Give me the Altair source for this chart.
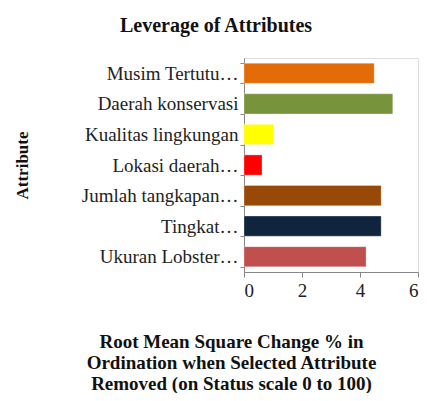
import altair as alt
import pandas as pd

attributes = ["Musim Tertutu…", "Daerah konservasi", "Kualitas lingkungan", "Lokasi daerah…",
              "Jumlah tangkapan…", "Tingkat…", "Ukuran Lobster…"]
values = [4.49, 5.13, 1.03, 0.62, 4.73, 4.73, 4.21]
colors = ["#E36C09", "#77933C", "#FFFF00", "#FF0000", "#984807", "#10243E", "#C0504D"]
x_ticks = [0, 2, 4, 6]

df = pd.DataFrame({"attr": attributes, "val": values, "col": colors})

serif = "Liberation Serif"

chart = alt.Chart(df).mark_bar(stroke="#ffffff", strokeWidth=0.6, strokeOpacity=0.5).encode(
    y=alt.Y("attr:N", sort=attributes,
            scale=alt.Scale(paddingInner=0.34, paddingOuter=0.17),
            axis=alt.Axis(title="Attribute", titleFont=serif, titleFontSize=17, titleFontWeight="bold",
                          titleX=-222, titleY=107, titleAngle=-90, titleAlign="center", titleBaseline="middle",
                          titleColor="#111",
                          labelFont=serif, labelFontSize=19, labelColor="#222", labelPadding=2,
                          labelLimit=240,
                          tickBand="extent", tickSize=4, tickColor="#868686",
                          domainColor="#868686", grid=False)),
    x=alt.X("val:Q", scale=alt.Scale(domain=[0, 6], nice=False),
            axis=alt.Axis(values=x_ticks, format="d",
                          title=["Root   Mean   Square   Change   % in", "Ordination   when   Selected  Attribute",
                                 "Removed    (on  Status  scale 0  to  100)"],
                          titleFont=serif, titleFontSize=19, titleFontWeight="bold",
                          titleX=-13, titleY=60, titleAlign="center", titleBaseline="top",
                          titleLineHeight=21, titleColor="#111",
                          labelFont=serif, labelFontSize=19, labelColor="#222", labelPadding=4,
                          tickSize=5, tickColor="#868686", domainColor="#868686", grid=False)),
    color=alt.Color("col:N", scale=None),
).properties(
    width=174, height=214,
    title=alt.Title("Leverage   of  Attributes", font=serif, fontSize=20, fontWeight="bold",
                    anchor="middle", dx=-115, offset=13, color="#111"),
    autosize=alt.AutoSizeParams(type="none"),
    padding={"left": 236, "top": 50, "right": 1, "bottom": 121},
).configure_view(stroke="#D9D9D9", strokeWidth=1).configure(background="white")

chart.save("out.html", embed_options={"renderer": "svg", "actions": False})
